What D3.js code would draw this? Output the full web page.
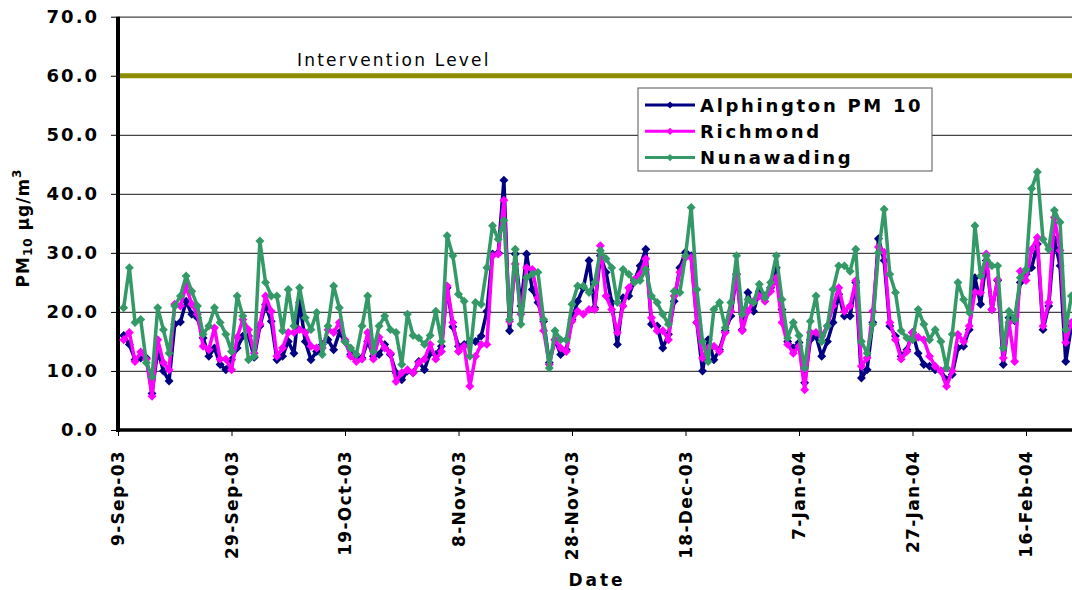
<!DOCTYPE html>
<html>
<head>
<meta charset="utf-8">
<script src="https://cdn.jsdelivr.net/npm/d3@7"></script>
<style>
  body { margin: 0; background: #fff; }
  svg { display: block; font-family: "DejaVu Sans", Verdana, sans-serif; }
</style>
</head>
<body>
<div id="plot"></div>
<script>
const WIDTH = 1072;
const HEIGHT = 590;
const MARGINS = {left: 118, top: 16.7, bottom: 430};

// daily readings, first value is 10-Sep-03
const startDate = new Date(Date.UTC(2003, 8, 10));
const alphington = [16, 14.5, 11.9, 12.2, 12.2, 6.2, 13.5, 10, 8.3, 17.9, 18.3, 21.8, 19.6, 19, 15.6, 12.5, 13.9, 11.1, 10.2, 11.9,
  13.9, 15.9, 15.9, 12.3, 17.6, 21.2, 18.4, 11.9, 12.5, 15, 13, 21.6, 15, 11.9, 13.3, 14.5, 15.3, 13.6, 16.5, 15,
  12.8, 12.2, 12.2, 15, 12.5, 12.8, 14.5, 12.8, 9.7, 8.5, 10, 9.7, 11.6, 10.2, 13, 12.8, 14.2, 24.1, 17.5, 14.2,
  14.5, 15, 15, 15.9, 20.1, 29.8, 30, 42.3, 16.8, 29.8, 21, 29.8, 23.8, 21.6, 18.4, 11.4, 15.3, 12.8, 13.6, 18.7,
  21.8, 24.1, 28.7, 20.7, 29.5, 26.7, 21.6, 14.5, 22.4, 22.7, 25.3, 27.8, 30.6, 17.9, 17.6, 13.9, 16.2, 21.8, 27.5, 30.1,
  29.5, 18.2, 10, 15.3, 11.9, 13.6, 16.8, 19.3, 26.4, 17, 23.3, 20.1, 23.5, 22.7, 24.1, 27.5, 20.4, 15, 13.9, 14.8,
  8, 15.3, 15.9, 12.5, 15, 18.2, 23, 19.3, 19.3, 25, 8.8, 10.2, 18.2, 32.4, 28.7, 17.6, 15.9, 12.5, 13.6, 16.5,
  13, 11.1, 10.8, 10.2, 10, 8.5, 9.4, 13.9, 14.2, 17, 25.8, 21.3, 28.7, 20.4, 25.3, 11.1, 19, 18.5, 25, 26.4,
  27.5, 31.5, 17, 21, 32.3, 27.8, 11.6, 17.6];
const richmond = [15.3, 16.5, 11.6, 13.2, 12, 5.7, 15.3, 11.4, 10.2, 21.3, 21, 24.4, 21.3, 19.6, 14.2, 13.6, 17.3, 12, 12, 10.2,
  15.7, 18.7, 17, 13, 17.9, 22.7, 20.1, 12.5, 13.9, 16.5, 16.5, 17, 16.5, 14.2, 13.9, 13.9, 17, 16.5, 18.2, 15.3,
  12.5, 11.6, 12, 16.5, 12, 15.7, 13.9, 13, 8.2, 9.7, 10.2, 9.7, 11.4, 12, 14.5, 12, 13.3, 24.4, 18.2, 13.3,
  14.2, 7.4, 12.5, 14.5, 14.5, 29.5, 29.8, 38.9, 18.4, 28.1, 19.6, 27.5, 27.2, 22.4, 16.8, 11.1, 15.3, 13.9, 13.3, 18.4,
  20.1, 19.6, 20.4, 20.4, 31.2, 22.7, 20.4, 16.5, 21, 24.1, 25.5, 26.4, 29, 19, 16.8, 16.8, 15.3, 22.7, 26.7, 29.2,
  29.2, 18.2, 12.2, 13.9, 14.2, 13.3, 16.5, 20.1, 26.4, 16.8, 20.1, 21.8, 22.7, 21.8, 23.5, 25.8, 18.2, 14.5, 13, 14.2,
  6.8, 16.5, 16.5, 15.9, 17.6, 21, 24.1, 20.1, 21, 25.3, 10.8, 12.2, 20.1, 31, 30.1, 18.2, 15.3, 12, 13.3, 16.5,
  15.7, 15.3, 12.5, 10.8, 10, 7.4, 10, 16.2, 15, 17.6, 23.3, 23.3, 29.8, 20.4, 25.5, 12.2, 18.2, 11.6, 26.9, 25.3,
  30.6, 32.6, 17.6, 21.6, 36, 30.4, 14.8, 18.2];
const nunawading = [20.7, 27.5, 18.2, 18.7, 11.4, 9, 20.7, 17, 13, 21, 22.7, 26.1, 23.5, 21, 16.2, 17.6, 20.7, 18.2, 16.2, 13.3,
  22.7, 19.3, 11.9, 12.5, 32, 25, 22.7, 22.7, 16.8, 23.8, 17.6, 24.1, 19, 17, 19.9, 12.8, 17.6, 24.4, 20.7, 15,
  13.9, 12.8, 17.6, 22.7, 13.3, 17.6, 19.3, 17, 16.5, 11.1, 19.6, 16, 15.6, 14.5, 16, 20.1, 15, 32.9, 29.5, 23,
  21.8, 12.5, 21.6, 21.3, 27.5, 34.6, 32.3, 35.5, 18.7, 30.6, 17.9, 25.8, 26.4, 26.7, 18.7, 10.5, 16.8, 15.3, 15.3, 21.3,
  24.4, 24.4, 23.3, 25, 30.4, 29, 27.5, 21.6, 27.2, 26.4, 25, 25.3, 27.2, 22.7, 21.6, 19.6, 17.9, 23.5, 23.3, 29.5,
  37.7, 23.8, 15, 11.6, 20.4, 21.6, 17.3, 21.6, 29.5, 19.6, 22.1, 21.6, 24.7, 22.4, 25, 29.5, 22.1, 15.6, 18.2, 16,
  10.5, 18.4, 22.7, 15, 17.6, 23.8, 27.8, 27.8, 26.9, 30.6, 15, 13, 17.9, 30, 37.4, 26.4, 23.3, 16.8, 15.6, 15.3,
  20.4, 17.9, 15.3, 17, 15, 10.5, 16.2, 25, 22.1, 19.9, 34.6, 26.1, 29.5, 27.8, 27.8, 13.9, 20.1, 18.7, 25.8, 27.2,
  40.9, 43.7, 32.3, 30.6, 37.2, 35.2, 17, 22.7];
const interventionLevel = 60;
const seriesNames = ["Alphington PM 10", "Richmond", "Nunawading"];
const seriesColors = ["#000080", "#ff00ff", "#339966"];
const yTicks = [0, 10, 20, 30, 40, 50, 60, 70];

const dates = alphington.map((d, i) => d3.utcDay.offset(startDate, i));
const allSeries = [alphington, richmond, nunawading];

const X_SCALE = d3.scaleUtc()
    .domain([new Date(Date.UTC(2003, 8, 9)), new Date(Date.UTC(2004, 1, 16))])
    .range([MARGINS.left, 1026]);

const Y_SCALE = d3.scaleLinear()
    .domain([0, 70])
    .range([MARGINS.bottom, MARGINS.top]);

const xTickValues = d3.utcDay.range(new Date(Date.UTC(2003, 8, 9)), new Date(Date.UTC(2004, 1, 20)), 20);

const svg = d3.select("#plot")
  .append("svg")
    .attr("width", WIDTH)
    .attr("height", HEIGHT);

svg.append("clipPath").attr("id", "clip")
  .append("rect")
    .attr("x", MARGINS.left).attr("y", 0)
    .attr("width", WIDTH - MARGINS.left).attr("height", MARGINS.bottom + 6);

// gridlines
svg.append("g")
    .attr("transform", "translate(" + MARGINS.left + ",0)")
    .call(d3.axisLeft(Y_SCALE).tickValues(yTicks.slice(1)).tickSize(-(WIDTH - MARGINS.left)).tickFormat(""))
    .call(g => g.select(".domain").remove())
    .call(g => g.selectAll("line").attr("stroke", "#444").attr("stroke-width", 1.2));

// y axis
const yAxis = svg.append("g")
    .attr("transform", "translate(" + MARGINS.left + ",0)")
    .call(d3.axisLeft(Y_SCALE).tickValues(yTicks).tickSize(7).tickPadding(12).tickFormat(d3.format(".1f")));
yAxis.select(".domain").remove();
yAxis.selectAll("line").attr("stroke", "#000").attr("stroke-width", 1);
yAxis.selectAll("text")
    .attr("font-size", 18).attr("font-weight", "bold").attr("letter-spacing", 2)
    .attr("font-family", "DejaVu Sans").attr("fill", "#000");

// x axis
const xAxis = svg.append("g")
    .attr("transform", "translate(0," + MARGINS.bottom + ")")
    .call(d3.axisBottom(X_SCALE).tickValues(xTickValues).tickSize(6).tickFormat(d3.utcFormat("%-d-%b-%y")));
xAxis.select(".domain").remove();
xAxis.selectAll("line").attr("stroke", "#000").attr("stroke-width", 1);
xAxis.selectAll("text")
    .attr("font-size", 17).attr("font-weight", "bold").attr("letter-spacing", 1.3)
    .attr("font-family", "DejaVu Sans").attr("fill", "#000")
    .attr("text-anchor", "end")
    .attr("dy", "0.35em")
    .attr("transform", "translate(0,20) rotate(-90)")
    .attr("x", 0).attr("y", 0);

// axis lines
svg.append("line")
    .attr("x1", MARGINS.left).attr("x2", MARGINS.left)
    .attr("y1", Y_SCALE(70)).attr("y2", MARGINS.bottom + 2)
    .attr("stroke", "#000").attr("stroke-width", 4);
svg.append("line")
    .attr("x1", MARGINS.left - 2).attr("x2", WIDTH)
    .attr("y1", MARGINS.bottom).attr("y2", MARGINS.bottom)
    .attr("stroke", "#000").attr("stroke-width", 3.5);

// intervention level
svg.append("line")
    .attr("x1", MARGINS.left + 2).attr("x2", WIDTH)
    .attr("y1", Y_SCALE(interventionLevel)).attr("y2", Y_SCALE(interventionLevel))
    .attr("stroke", "#8c8c00").attr("stroke-width", 5);
svg.append("text")
    .attr("x", 297).attr("y", 66)
    .attr("font-size", 17).attr("letter-spacing", 2.2)
    .attr("fill", "#000")
    .text("Intervention Level");

// series
const line = d3.line()
    .x((d, i) => X_SCALE(dates[i]))
    .y(d => Y_SCALE(d));
const diamond = d3.symbol().type(d3.symbolSquare).size(40);

const plotArea = svg.append("g").attr("clip-path", "url(#clip)");
allSeries.forEach((values, k) => {
  plotArea.append("path")
      .datum(values)
      .attr("d", line)
      .attr("fill", "none")
      .attr("stroke", seriesColors[k])
      .attr("stroke-width", 3.5)
      .attr("stroke-linejoin", "round");
  plotArea.selectAll(".pt" + k)
      .data(values)
      .enter()
      .append("path")
        .attr("class", "pt" + k)
        .attr("d", diamond)
        .attr("transform", (d, i) => "translate(" + X_SCALE(dates[i]) + "," + Y_SCALE(d) + ") rotate(45)")
        .attr("fill", seriesColors[k]);
});

// legend
const legend = svg.append("g").attr("transform", "translate(638,88)");
legend.append("rect")
    .attr("width", 294).attr("height", 83)
    .attr("fill", "#fff").attr("stroke", "#555").attr("stroke-width", 1);
seriesNames.forEach((name, k) => {
  const y = 17 + k * 26.3;
  legend.append("line")
      .attr("x1", 7).attr("x2", 57).attr("y1", y).attr("y2", y)
      .attr("stroke", seriesColors[k]).attr("stroke-width", 3);
  legend.append("path")
      .attr("d", d3.symbol().type(d3.symbolSquare).size(26))
      .attr("transform", "translate(32," + y + ") rotate(45)")
      .attr("fill", seriesColors[k]);
  legend.append("text")
      .attr("x", 62).attr("y", y + 6.5)
      .attr("font-size", 18).attr("font-weight", "bold").attr("letter-spacing", 2.7)
      .attr("fill", "#000")
      .text(name);
});

// axis titles
svg.append("text")
    .attr("x", 597).attr("y", 586)
    .attr("text-anchor", "middle")
    .attr("font-size", 17).attr("font-weight", "bold").attr("letter-spacing", 3)
    .text("Date");

const yTitle = svg.append("text")
    .attr("transform", "translate(29,228) rotate(-90)")
    .attr("text-anchor", "middle")
    .attr("font-size", 17).attr("font-weight", "bold").attr("letter-spacing", 1);
yTitle.append("tspan").text("PM");
yTitle.append("tspan").attr("font-size", 12).attr("dy", 3).text("10");
yTitle.append("tspan").attr("dy", -3).text(" µg/m");
yTitle.append("tspan").attr("font-size", 12).attr("dy", -8).text("3");
</script>
</body>
</html>
